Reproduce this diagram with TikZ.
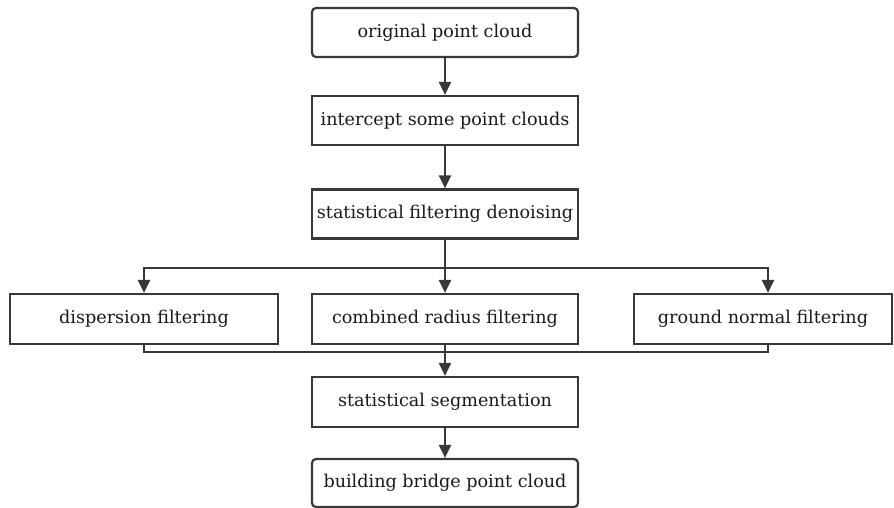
\documentclass[tikz,border=0pt]{standalone}
\usepackage{fontspec}
\setmainfont{DejaVu Serif}
\usetikzlibrary{arrows.meta}
\begin{document}
\begin{tikzpicture}[x=1pt,y=-1pt,
  line width=2.2pt, draw=black!78,
  box/.style={draw=black!78, line width=2.2pt, minimum height=49pt, inner sep=0pt, font=\fontsize{17.6}{20}\selectfont, text=black!90},
  rbox/.style={box, rounded corners=4pt},
  arr/.style={-{Triangle[length=13pt,width=12pt]}, draw=black!78, line width=2.2pt}]
\useasboundingbox (0,0) rectangle (894,507);
\node[rbox, minimum width=266pt] (a) at (445,32.5) {original point cloud};
\node[box, minimum width=266pt] (b) at (445,120.5) {intercept some point clouds};
\node[box, minimum width=266pt] (c) at (445,214) {statistical filtering denoising};
\node[box, minimum width=268pt, minimum height=50pt] (d) at (144,319) {dispersion filtering};
\node[box, minimum width=266pt, minimum height=50pt] (e) at (445,319) {combined radius filtering};
\node[box, minimum width=258pt, minimum height=50pt] (f) at (763,319) {ground normal filtering};
\node[box, minimum width=266pt, minimum height=50pt] (g) at (445,402) {statistical segmentation};
\node[rbox, minimum width=266pt, minimum height=48pt] (h) at (445,483) {building bridge point cloud};
\coordinate (split) at (445,268);
\coordinate (join) at (445,352);
\draw[arr] (a) -- (b);
\draw[arr] (b) -- (c);
\draw (c.south) -- (split);
\draw[arr] (split) -- (e.north);
\draw[arr] (split) -| (d.north);
\draw[arr] (split) -| ([xshift=5pt]f.north);
\draw (d.south) |- (join);
\draw ([xshift=5pt]f.south) |- (join);
\draw[arr] (e.south) -- (g.north);
\draw[arr] (g) -- (h);
\end{tikzpicture}
\end{document}
